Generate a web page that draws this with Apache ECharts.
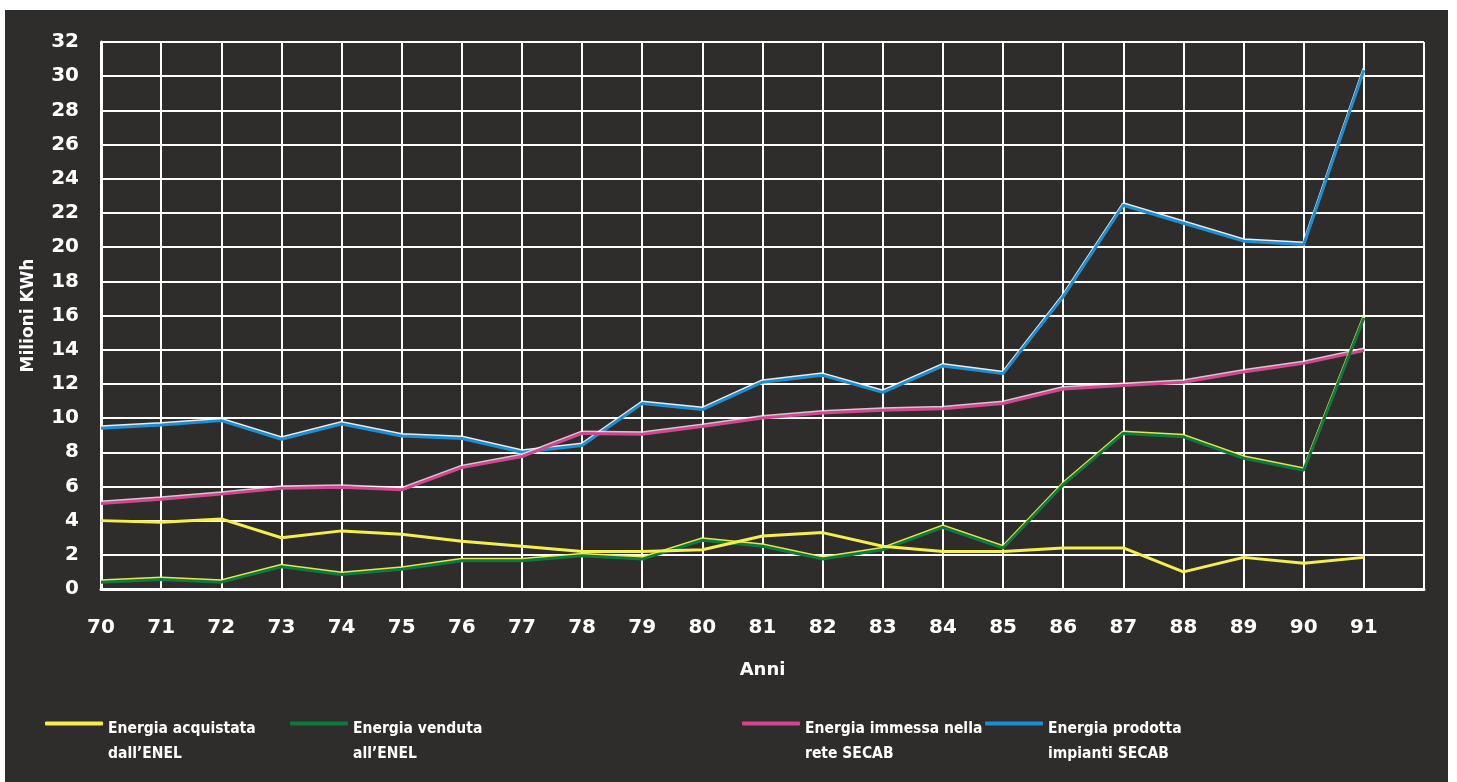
<!DOCTYPE html>
<html>
<head>
<meta charset="utf-8">
<script src="https://cdn.jsdelivr.net/npm/echarts@6/dist/echarts.min.js"></script>
<style>
  html, body { margin: 0; padding: 0; background: #ffffff; }
  #chart { position: absolute; left: 5px; top: 10px; width: 1443px; height: 772px; }
</style>
</head>
<body>
<div id="chart"></div>
<script>
// Years (last two digits)
const years = [70, 71, 72, 73, 74, 75, 76, 77, 78, 79, 80, 81, 82, 83, 84, 85, 86, 87, 88, 89, 90, 91];

// Million kWh per year
const acquistata = [4.0, 3.9, 4.1, 3.0, 3.4, 3.2, 2.8, 2.5, 2.2, 2.2, 2.3, 3.1, 3.3, 2.5, 2.2, 2.2, 2.4, 2.4, 1.0, 1.85, 1.5, 1.85];
const venduta    = [0.4, 0.55, 0.4, 1.3, 0.85, 1.15, 1.65, 1.65, 1.95, 1.75, 2.85, 2.5, 1.75, 2.3, 3.6, 2.4, 6.1, 9.1, 8.9, 7.65, 6.95, 15.85];
const immessa    = [5.0, 5.25, 5.55, 5.9, 5.95, 5.8, 7.1, 7.75, 9.1, 9.05, 9.5, 10.0, 10.3, 10.45, 10.55, 10.85, 11.7, 11.9, 12.1, 12.7, 13.2, 13.95];
const prodotta   = [9.4, 9.6, 9.85, 8.76, 9.65, 8.95, 8.8, 8.0, 8.4, 10.85, 10.5, 12.1, 12.5, 11.5, 13.05, 12.6, 17.1, 22.45, 21.4, 20.35, 20.15, 30.35];

const seriesNames = [
  'Energia acquistata\ndall\u2019ENEL',
  'Energia venduta\nall\u2019ENEL',
  'Energia immessa nella\nrete SECAB',
  'Energia prodotta\nimpianti SECAB'
];
const yTicks = { min: 0, max: 32, step: 2 };
const xRange = { min: 70, max: 92 };

const pairs = vals => years.map((y, i) => [y, vals[i]]);

const white = '#ffffff';
const bold = { fontWeight: 'bold', fontFamily: 'DejaVu Sans, Noto Sans, sans-serif', color: white };
const legendFont = {
  color: white,
  fontWeight: 'bold',
  fontFamily: 'Liberation Sans Narrow, DejaVu Sans Condensed, Roboto, sans-serif',
  fontSize: 15.5,
  lineHeight: 25
};

function lineSeries(name, vals, color, glow) {
  return {
    name: name,
    type: 'line',
    data: pairs(vals),
    symbol: 'none',
    lineStyle: {
      color: color,
      width: 3,
      shadowColor: glow || 'rgba(0,0,0,0)',
      shadowBlur: 0,
      shadowOffsetY: glow ? -1.5 : 0
    },
    itemStyle: { color: color },
    emphasis: { disabled: true },
    animation: false
  };
}

// Legend entries: the swatch sits beside the first text line,
// so an empty spacer line is put above the two text lines.
function legendAt(left, name) {
  return {
    data: [name],
    left: left,
    top: 671,
    padding: 0,
    icon: 'roundRect',
    itemWidth: 58,
    itemHeight: 4,
    itemGap: 0,
    selectedMode: false,
    formatter: n => '{pad|}\n' + n.split('\n').map(s => '{t|' + s + '}').join('\n'),
    textStyle: Object.assign({}, legendFont, {
      rich: {
        pad: { lineHeight: 35, fontSize: 10 },
        t: Object.assign({}, legendFont)
      }
    })
  };
}

const chart = echarts.init(document.getElementById('chart'), null, { renderer: 'canvas' });
chart.setOption({
  backgroundColor: '#2f2d2c',
  animation: false,
  grid: { left: 96, right: 24, top: 32, bottom: 193, containLabel: false },
  xAxis: {
    type: 'value',
    min: xRange.min,
    max: xRange.max,
    interval: 1,
    name: 'Anni',
    nameLocation: 'middle',
    nameGap: 72,
    nameTextStyle: Object.assign({ fontSize: 18 }, bold),
    axisLine: { show: true, lineStyle: { color: white, width: 3 } },
    axisTick: { show: false },
    splitLine: { show: true, lineStyle: { color: white, width: 2 } },
    axisLabel: Object.assign({
      fontSize: 20,
      margin: 29,
      showMaxLabel: false,
      formatter: v => (v >= xRange.max ? '' : String(v))
    }, bold)
  },
  yAxis: {
    type: 'value',
    min: yTicks.min,
    max: yTicks.max,
    interval: yTicks.step,
    name: 'Milioni KWh',
    nameLocation: 'middle',
    nameGap: 64,
    nameTextStyle: Object.assign({ fontSize: 17 }, bold),
    axisLine: { show: true, lineStyle: { color: white, width: 3 } },
    axisTick: { show: false },
    splitLine: { show: true, lineStyle: { color: white, width: 2 } },
    axisLabel: Object.assign({ fontSize: 20, margin: 22 }, bold)
  },
  legend: [
    legendAt(40, seriesNames[0]),
    legendAt(285, seriesNames[1]),
    legendAt(737, seriesNames[2]),
    legendAt(980, seriesNames[3])
  ],
  series: [
    lineSeries(seriesNames[3], prodotta, '#1b8fd2', 'rgba(255,255,255,0.9)'),
    lineSeries(seriesNames[2], immessa, '#d2458f', 'rgba(255,235,245,0.8)'),
    lineSeries(seriesNames[1], venduta, '#0d7a3c', 'rgba(240,240,80,0.95)'),
    lineSeries(seriesNames[0], acquistata, '#f4ef4c', null)
  ]
});
</script>
</body>
</html>
